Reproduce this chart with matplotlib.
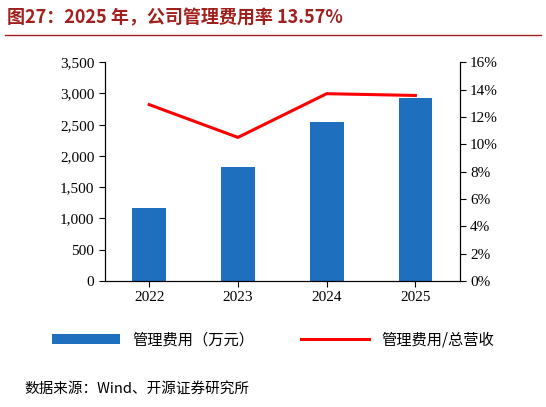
import matplotlib
matplotlib.use('Agg')
import matplotlib.pyplot as plt
from matplotlib.ticker import FuncFormatter

years = ['2022', '2023', '2024', '2025']
mgmt_cost = [1170, 1830, 2540, 2930]        # 万元
cost_ratio = [12.9, 10.5, 13.7, 13.57]      # %

plt.rcParams['font.family'] = ['Liberation Serif', 'Noto Sans CJK SC']
fig = plt.figure(figsize=(5.46, 4.07), dpi=100)
ax = fig.add_axes([0.192, 0.31, 0.65, 0.537])
ax2 = ax.twinx()

x = range(len(years))
ax.bar(x, mgmt_cost, width=0.38, color='#1f6fbf', label='管理费用（万元）')
ax2.plot(x, cost_ratio, color='#ff0000', lw=2.2, label='管理费用/总营收')

ax.set_ylim(0, 3500)
ax.set_yticks(range(0, 3501, 500))
ax.yaxis.set_major_formatter(FuncFormatter(lambda v, p: f'{int(v):,}'))
ax2.set_ylim(0, 16)
ax2.set_yticks(range(0, 17, 2))
ax2.yaxis.set_major_formatter(FuncFormatter(lambda v, p: f'{int(v)}%'))
ax.set_xticks(list(x))
ax.set_xticklabels(years)
ax.set_xlim(-0.5, 3.5)
for a in (ax, ax2):
    a.tick_params(labelsize=11, direction='out', length=4)
    a.spines['top'].set_visible(False)

h1, l1 = ax.get_legend_handles_labels()
h2, l2 = ax2.get_legend_handles_labels()
fig.legend(h1 + h2, l1 + l2, loc='center', bbox_to_anchor=(0.5, 0.165), ncol=2,
           frameon=False, handlelength=4.5, columnspacing=3,
           prop={'family': ['Noto Sans CJK SC'], 'size': 11})

fig.text(0.012, 0.955, '图27：2025 年，公司管理费用率 13.57%', color='#a0201d',
         fontsize=13, fontweight='bold', va='center',
         family=['Noto Sans CJK SC'])
fig.add_artist(plt.Line2D([0.01, 0.99], [0.915, 0.915], color='#a0201d', lw=1))
fig.text(0.045, 0.045, '数据来源：Wind、开源证券研究所', fontsize=10.5, va='center',
         family=['Noto Sans CJK SC'])

fig.savefig('out.png', dpi=100)
